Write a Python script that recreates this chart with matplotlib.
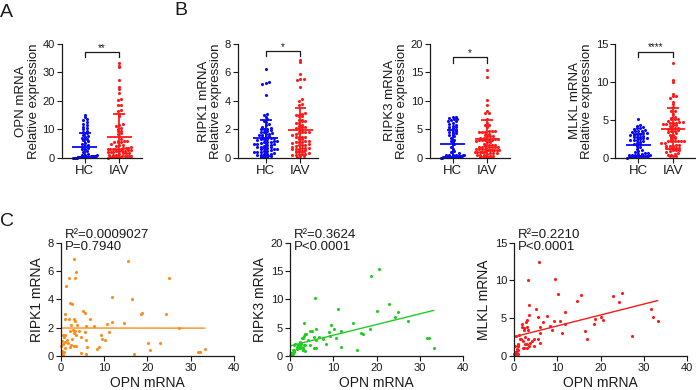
import numpy as np
import matplotlib
matplotlib.use("Agg")
import matplotlib.pyplot as plt

plt.rcParams['font.family'] = ['Liberation Sans', 'DejaVu Sans']
plt.rcParams['text.color'] = '#1a1a1a'
plt.rcParams['axes.labelcolor'] = '#1a1a1a'
plt.rcParams['xtick.color'] = '#1a1a1a'
plt.rcParams['ytick.color'] = '#1a1a1a'

# ---- IAV patients (paired values) ----
iav_opn = [33.2, 32.2, 31.7, 27.2, 25.0, 24.2, 22.8, 20.2, 20.5, 18.7, 18.6, 16.5, 16.8,
           15.5, 14.6, 11.2, 11.7, 11.9, 10.6, 10.1, 9.5, 9.3, 8.9, 8.4, 7.6, 6.6,
           5.0, 5.5, 5.5, 5.7, 5.9, 6.0, 5.9, 4.2, 4.7, 4.6,
           3.0, 3.5, 3.2, 1.8, 1.2, 2.2, 2.5, 1.0, 0.85, 1.85, 3.0, 3.2, 2.4, 3.7,
           2.0, 2.8, 3.3, 3.0, 3.4, 1.0, 0.4, 0.7, 1.5, 0.2, 0.85, 0.5, 2.4, 2.9,
           3.4, 2.1, 0.85, 0.2, 0.4, 0.3, 0.6, 0.1, 1.6, 2.6]
iav_ripk1 = [0.5, 0.3, 0.26, 1.95, 5.48, 2.94, 0.92, 0.89, 0.4, 3.06, 3.0, 4.02, 0.14,
             6.73, 2.33, 1.69, 2.42, 4.16, 2.24, 1.13, 1.2, 1.48, 0.61, 0.47, 2.09, 2.59,
             3.15, 3.04, 1.72, 1.15, 2.12, 0.66, 0.14, 1.79, 1.34, 0.24,
             6.87, 5.9, 5.5, 5.5, 4.94, 3.76, 3.69, 2.96, 2.64, 2.64, 2.59, 2.45, 2.16, 2.16,
             1.79, 1.84, 1.79, 1.6, 1.46, 1.5, 1.46, 1.36, 1.13, 1.04, 0.99, 0.85, 0.8, 0.68,
             0.68, 0.61, 0.56, 0.38, 0.1, 0.2, 0.3, 0.7, 0.9, 1.2]
iav_ripk3 = [1.4, 3.1, 3.1, 6.1, 7.8, 6.9, 9.2, 7.9, 15.4, 14.2, 4.8, 4.1, 3.8,
             1.1, 5.8, 8.3, 1.6, 4.5, 3.2, 4.8, 5.4, 3.5, 4.2, 2.2, 3.0, 3.3,
             4.5, 3.4, 1.4, 10.2, 4.8, 2.8, 1.4, 2.8, 2.0, 4.5,
             3.2, 3.8, 5.8, 1.9, 2.2, 2.5, 2.1, 1.9, 1.1, 1.9, 1.1, 3.5, 1.4, 3.8,
             1.6, 3.2, 1.9, 1.4, 2.0, 0.7, 0.5, 1.1, 1.2, 0.5, 0.8, 0.25, 2.2, 1.1,
             0.8, 1.4, 0.8, 0.3, 0.2, 0.6, 0.4, 0.1, 1.5, 1.6]
iav_mlkl = [4.6, 5.1, 6.2, 2.6, 8.4, 7.1, 7.9, 5.1, 4.7, 4.9, 4.3, 3.3, 2.2,
            8.1, 7.3, 3.0, 4.2, 5.8, 4.6, 8.2, 10.2, 4.6, 3.5, 4.0, 5.3, 4.5,
            6.2, 5.1, 2.2, 12.5, 3.9, 3.0, 1.7, 2.0, 2.2, 1.3,
            4.7, 6.7, 10.0, 4.3, 2.8, 3.4, 2.5, 1.6, 1.3, 3.9, 3.8, 3.5, 3.7, 1.7,
            2.0, 4.5, 2.2, 1.6, 5.4, 0.8, 2.7, 0.6, 2.2, 1.3, 1.3, 0.4, 1.1, 1.1,
            1.3, 1.1, 0.25, 0.4, 0.2, 0.5, 0.9, 0.3, 2.2, 1.6]

hc_opn = [0.05, 0.1, 0.1, 0.15, 0.2, 0.2, 0.25, 0.3, 0.3, 0.35, 0.4, 0.4, 0.45, 0.5, 0.5,
          0.55, 0.6, 0.6, 0.7, 0.7, 0.8, 0.9, 1.0, 1.1, 0.2, 0.3, 0.15, 0.35, 0.5, 0.25,
          1.5, 2.0, 2.5, 3.0, 3.3, 3.6, 4.0, 4.3, 4.7, 5.0, 5.4, 5.8, 6.2, 6.6, 7.0, 7.4,
          7.8, 8.2, 8.6, 9.0, 9.5, 10.0, 10.5, 11.0, 11.5, 12.0, 12.6, 13.2, 13.8, 14.4, 15.0]
hc_ripk1 = [6.2, 5.3, 5.25, 5.2, 4.4, 3.1, 3.0, 2.85, 2.7, 2.6, 2.5, 2.4, 2.3, 2.2, 2.1,
            2.05, 2.0, 2.0, 1.95, 1.9, 1.85, 1.8, 1.75, 1.7, 1.65, 1.6, 1.6, 1.55, 1.5,
            1.45, 1.4, 1.4, 1.35, 1.3, 1.3, 1.25, 1.2, 1.2, 1.15, 1.1, 1.1, 1.05, 1.0, 1.0,
            0.95, 0.9, 0.9, 0.85, 0.8, 0.8, 0.75, 0.7, 0.7, 0.65, 0.6, 0.6, 0.55, 0.5, 0.5,
            0.45, 0.4, 0.4, 0.35, 0.3, 0.3, 0.25, 0.2, 0.2, 0.15, 0.1, 0.1, 0.05]
hc_ripk3 = [0.05, 0.05, 0.1, 0.1, 0.1, 0.15, 0.15, 0.2, 0.2, 0.2, 0.25, 0.25, 0.3, 0.3, 0.3,
            0.35, 0.35, 0.4, 0.4, 0.4, 0.45, 0.45, 0.5, 0.5, 0.55, 0.6, 0.2, 0.3, 0.1, 0.25,
            0.8, 1.0, 1.3, 1.6, 2.0, 2.4, 2.8, 3.2, 3.5, 3.8, 4.0, 4.2, 4.4, 4.6, 4.8, 5.0,
            5.2, 5.4, 5.6, 5.8, 6.0, 6.2, 6.4, 6.6, 6.8, 7.0, 7.2, 3.0, 4.5, 5.5, 6.5, 7.1, 6.9]
hc_mlkl = [5.1, 4.3, 4.2, 4.1, 4.0, 3.9, 3.8, 3.7, 3.6, 3.5, 3.4, 3.3, 3.2, 3.1, 3.0, 2.9,
           2.8, 2.7, 2.6, 2.5, 2.4, 2.3, 2.2, 2.1, 2.0, 1.9, 1.8, 1.6, 1.4, 1.2, 1.0, 0.9,
           3.6, 3.3, 3.0, 2.8, 2.6, 2.4, 0.8, 0.7, 0.6, 0.5, 0.45, 0.4, 0.35, 0.3, 0.3, 0.25,
           0.2, 0.2, 0.15, 0.1, 0.1, 0.05, 0.4, 0.3, 0.2, 0.5, 0.15, 0.25]

# mean and SD bars as shown in panels A/B (HC, IAV)
opn_mean, opn_sd = [4.0, 7.2], [4.6, 8.3]
ripk1_mean, ripk1_sd = [1.4, 1.95], [1.25, 1.55]
ripk3_mean, ripk3_sd = [2.45, 3.4], [2.4, 3.2]
mlkl_mean, mlkl_sd = [1.75, 3.85], [1.45, 2.65]

groups = ['HC', 'IAV']
stars = ['**', '*', '*', '****']
r2_text = ['R²=0.0009027\nP=0.7940', 'R²=0.3624\nP<0.0001', 'R²=0.2210\nP<0.0001']

BLUE = '#0a0af5'
RED = '#ff1a1a'
ORANGE = '#ff8c1a'
GREEN = '#22cc22'


def swarm_x(values, center, ymax, dx=0.095, half=0.34):
    vals = np.asarray(values, dtype=float)
    bin_h = ymax / 40.0
    bins = np.floor(vals / bin_h).astype(int)
    x = np.empty(len(vals))
    for b in np.unique(bins):
        idx = np.where(bins == b)[0]
        idx = idx[np.argsort(vals[idx])]
        n = len(idx)
        step = min(dx, 2 * half / (n - 1)) if n > 1 else 0
        x[idx] = center + (np.arange(n) - (n - 1) / 2) * step
    return x


def style(ax):
    for s in ['top', 'right']:
        ax.spines[s].set_visible(False)
    for s in ['left', 'bottom']:
        ax.spines[s].set_linewidth(0.9)
        ax.spines[s].set_color('#1a1a1a')
    ax.tick_params(length=3.5, width=0.8, labelsize=8, pad=1.5)


fig = plt.figure(figsize=(6.96, 3.9), dpi=100)

dot_panels = [
    (0.0886, hc_opn, iav_opn, opn_mean, opn_sd, 40, [0, 10, 20, 30, 40], 'OPN mRNA', (37.2, 35.5, 38.6), (0.29, 0.72)),
    (0.342, hc_ripk1, iav_ripk1, ripk1_mean, ripk1_sd, 8, [0, 2, 4, 6, 8], 'RIPK1 mRNA', (7.51, 7.16, 7.75), (0.345, 0.78)),
    (0.618, hc_ripk3, iav_ripk3, ripk3_mean, ripk3_sd, 20, [0, 5, 10, 15, 20], 'RIPK3 mRNA', (17.6, 16.7, 18.3), (0.28, 0.71)),
    (0.884, hc_mlkl, iav_mlkl, mlkl_mean, mlkl_sd, 15, [0, 5, 10, 15], 'MLKL mRNA', (13.95, 13.2, 14.5), (0.29, 0.72)),
]

for k, (left, hc, iav, means, sds, ymax, yt, name, br, fr) in enumerate(dot_panels):
    ax = fig.add_axes([left, 0.5949, 0.115, 0.2931])
    f0, f1 = fr
    ax.set_xlim(-f0 / (f1 - f0), (1 - f0) / (f1 - f0))
    ax.set_ylim(0, ymax)
    for c, (vals, col) in enumerate([(hc, BLUE), (iav, RED)]):
        ax.scatter(swarm_x(vals, c, ymax), vals, s=5, color=col, linewidths=0,
                   clip_on=False, zorder=2)
        m, sd = means[c], sds[c]
        ax.hlines(m, c - 0.36, c + 0.36, color=col, lw=1.3, zorder=3)
        lo = max(m - sd, 0)
        ax.vlines(c, lo, m + sd, color=col, lw=1.3, zorder=3)
        for cap in [m + sd, m - sd]:
            if cap > 0:
                ax.hlines(cap, c - 0.17, c + 0.17, color=col, lw=1.3, zorder=3)
    ax.plot([0, 0, 1, 1], [br[1], br[0], br[0], br[1]], color='#1a1a1a', lw=0.9, clip_on=False)
    ax.text(0.5, br[2], stars[k], ha='center', va='center', fontsize=7)
    ax.set_xticks([0, 1])
    ax.set_xticklabels(groups, fontsize=9.5)
    ax.set_yticks(yt)
    ax.set_ylabel(name + '\nRelative expression', fontsize=9.5, labelpad=2, linespacing=1.05)
    style(ax)
    ax.tick_params(axis='x', labelsize=9.5)

scatter_panels = [
    (0.0876, iav_ripk1, ORANGE, 8, [0, 2, 4, 6, 8], 'RIPK1 mRNA'),
    (0.4167, iav_ripk3, GREEN, 20, [0, 5, 10, 15, 20], 'RIPK3 mRNA'),
    (0.7385, iav_mlkl, RED, 15, [0, 5, 10, 15], 'MLKL mRNA'),
]

for k, (left, yv, col, ymax, yt, name) in enumerate(scatter_panels):
    ax = fig.add_axes([left, 0.0872, 0.2486, 0.2905])
    ax.set_xlim(0, 40)
    ax.set_ylim(0, ymax)
    ax.scatter(iav_opn, yv, s=5, color=col, linewidths=0, clip_on=False, zorder=2)
    slope, icpt = np.polyfit(iav_opn, yv, 1)
    xs = np.array([min(iav_opn), max(iav_opn)])
    ax.plot(xs, icpt + slope * xs, color=col, lw=1.0)
    ax.set_xticks([0, 10, 20, 30, 40])
    ax.set_yticks(yt)
    ax.set_xlabel('OPN mRNA', fontsize=10, labelpad=2)
    ax.set_ylabel(name, fontsize=10, labelpad=3)
    ax.text(0.02, 1.12, r2_text[k], transform=ax.transAxes, ha='left', va='top',
            fontsize=9.5, linespacing=0.95)
    style(ax)

fig.text(0.0, 0.99, 'A', fontsize=14, va='top')
fig.text(0.251, 0.995, 'B', fontsize=14, va='top')
fig.text(0.0, 0.455, 'C', fontsize=14, va='top')

fig.savefig('out.png', dpi=100)
